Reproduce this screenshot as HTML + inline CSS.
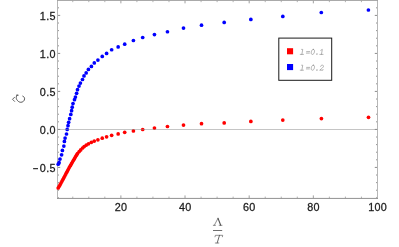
<!DOCTYPE html>
<html><head><meta charset="utf-8"><title>plot</title>
<style>
html,body{margin:0;padding:0;background:#fff;}
body{width:399px;height:247px;overflow:hidden;font-family:"Liberation Sans",sans-serif;}
svg{display:block;will-change:transform;}
.t{font-family:"Liberation Sans",sans-serif;font-size:10.8px;fill:#1c1c1c;stroke:#1c1c1c;stroke-width:0.27px;}
.lg{font-family:"Liberation Mono",monospace;font-style:italic;font-size:8.2px;fill:#989898;}
</style></head><body>
<svg width="399" height="247" viewBox="0 0 399 247">
<rect width="399" height="247" fill="#fff"/>
<line x1="72.77" y1="198.40" x2="72.77" y2="196.60" stroke="#a0a0a0" stroke-width="0.8"/>
<line x1="72.77" y1="0.35" x2="72.77" y2="2.15" stroke="#a0a0a0" stroke-width="0.8"/>
<line x1="88.81" y1="198.40" x2="88.81" y2="196.60" stroke="#a0a0a0" stroke-width="0.8"/>
<line x1="88.81" y1="0.35" x2="88.81" y2="2.15" stroke="#a0a0a0" stroke-width="0.8"/>
<line x1="104.84" y1="198.40" x2="104.84" y2="196.60" stroke="#a0a0a0" stroke-width="0.8"/>
<line x1="104.84" y1="0.35" x2="104.84" y2="2.15" stroke="#a0a0a0" stroke-width="0.8"/>
<line x1="120.88" y1="198.40" x2="120.88" y2="195.40" stroke="#888888" stroke-width="0.8"/>
<line x1="120.88" y1="0.35" x2="120.88" y2="3.35" stroke="#888888" stroke-width="0.8"/>
<line x1="136.92" y1="198.40" x2="136.92" y2="196.60" stroke="#a0a0a0" stroke-width="0.8"/>
<line x1="136.92" y1="0.35" x2="136.92" y2="2.15" stroke="#a0a0a0" stroke-width="0.8"/>
<line x1="152.95" y1="198.40" x2="152.95" y2="196.60" stroke="#a0a0a0" stroke-width="0.8"/>
<line x1="152.95" y1="0.35" x2="152.95" y2="2.15" stroke="#a0a0a0" stroke-width="0.8"/>
<line x1="168.99" y1="198.40" x2="168.99" y2="196.60" stroke="#a0a0a0" stroke-width="0.8"/>
<line x1="168.99" y1="0.35" x2="168.99" y2="2.15" stroke="#a0a0a0" stroke-width="0.8"/>
<line x1="185.03" y1="198.40" x2="185.03" y2="195.40" stroke="#888888" stroke-width="0.8"/>
<line x1="185.03" y1="0.35" x2="185.03" y2="3.35" stroke="#888888" stroke-width="0.8"/>
<line x1="201.07" y1="198.40" x2="201.07" y2="196.60" stroke="#a0a0a0" stroke-width="0.8"/>
<line x1="201.07" y1="0.35" x2="201.07" y2="2.15" stroke="#a0a0a0" stroke-width="0.8"/>
<line x1="217.10" y1="198.40" x2="217.10" y2="196.60" stroke="#a0a0a0" stroke-width="0.8"/>
<line x1="217.10" y1="0.35" x2="217.10" y2="2.15" stroke="#a0a0a0" stroke-width="0.8"/>
<line x1="233.14" y1="198.40" x2="233.14" y2="196.60" stroke="#a0a0a0" stroke-width="0.8"/>
<line x1="233.14" y1="0.35" x2="233.14" y2="2.15" stroke="#a0a0a0" stroke-width="0.8"/>
<line x1="249.18" y1="198.40" x2="249.18" y2="195.40" stroke="#888888" stroke-width="0.8"/>
<line x1="249.18" y1="0.35" x2="249.18" y2="3.35" stroke="#888888" stroke-width="0.8"/>
<line x1="265.22" y1="198.40" x2="265.22" y2="196.60" stroke="#a0a0a0" stroke-width="0.8"/>
<line x1="265.22" y1="0.35" x2="265.22" y2="2.15" stroke="#a0a0a0" stroke-width="0.8"/>
<line x1="281.25" y1="198.40" x2="281.25" y2="196.60" stroke="#a0a0a0" stroke-width="0.8"/>
<line x1="281.25" y1="0.35" x2="281.25" y2="2.15" stroke="#a0a0a0" stroke-width="0.8"/>
<line x1="297.29" y1="198.40" x2="297.29" y2="196.60" stroke="#a0a0a0" stroke-width="0.8"/>
<line x1="297.29" y1="0.35" x2="297.29" y2="2.15" stroke="#a0a0a0" stroke-width="0.8"/>
<line x1="313.33" y1="198.40" x2="313.33" y2="195.40" stroke="#888888" stroke-width="0.8"/>
<line x1="313.33" y1="0.35" x2="313.33" y2="3.35" stroke="#888888" stroke-width="0.8"/>
<line x1="329.37" y1="198.40" x2="329.37" y2="196.60" stroke="#a0a0a0" stroke-width="0.8"/>
<line x1="329.37" y1="0.35" x2="329.37" y2="2.15" stroke="#a0a0a0" stroke-width="0.8"/>
<line x1="345.41" y1="198.40" x2="345.41" y2="196.60" stroke="#a0a0a0" stroke-width="0.8"/>
<line x1="345.41" y1="0.35" x2="345.41" y2="2.15" stroke="#a0a0a0" stroke-width="0.8"/>
<line x1="361.44" y1="198.40" x2="361.44" y2="196.60" stroke="#a0a0a0" stroke-width="0.8"/>
<line x1="361.44" y1="0.35" x2="361.44" y2="2.15" stroke="#a0a0a0" stroke-width="0.8"/>
<line x1="377.48" y1="198.40" x2="377.48" y2="195.40" stroke="#888888" stroke-width="0.8"/>
<line x1="377.48" y1="0.35" x2="377.48" y2="3.35" stroke="#888888" stroke-width="0.8"/>
<line x1="57.50" y1="197.82" x2="59.00" y2="197.82" stroke="#787878" stroke-width="0.8"/>
<line x1="377.50" y1="197.82" x2="376.00" y2="197.82" stroke="#787878" stroke-width="0.8"/>
<line x1="57.50" y1="190.22" x2="59.00" y2="190.22" stroke="#787878" stroke-width="0.8"/>
<line x1="377.50" y1="190.22" x2="376.00" y2="190.22" stroke="#787878" stroke-width="0.8"/>
<line x1="57.50" y1="182.62" x2="59.00" y2="182.62" stroke="#787878" stroke-width="0.8"/>
<line x1="377.50" y1="182.62" x2="376.00" y2="182.62" stroke="#787878" stroke-width="0.8"/>
<line x1="57.50" y1="175.02" x2="59.00" y2="175.02" stroke="#787878" stroke-width="0.8"/>
<line x1="377.50" y1="175.02" x2="376.00" y2="175.02" stroke="#787878" stroke-width="0.8"/>
<line x1="57.50" y1="167.42" x2="60.20" y2="167.42" stroke="#6e6e6e" stroke-width="0.8"/>
<line x1="377.50" y1="167.42" x2="374.80" y2="167.42" stroke="#6e6e6e" stroke-width="0.8"/>
<line x1="57.50" y1="159.82" x2="59.00" y2="159.82" stroke="#787878" stroke-width="0.8"/>
<line x1="377.50" y1="159.82" x2="376.00" y2="159.82" stroke="#787878" stroke-width="0.8"/>
<line x1="57.50" y1="152.22" x2="59.00" y2="152.22" stroke="#787878" stroke-width="0.8"/>
<line x1="377.50" y1="152.22" x2="376.00" y2="152.22" stroke="#787878" stroke-width="0.8"/>
<line x1="57.50" y1="144.62" x2="59.00" y2="144.62" stroke="#787878" stroke-width="0.8"/>
<line x1="377.50" y1="144.62" x2="376.00" y2="144.62" stroke="#787878" stroke-width="0.8"/>
<line x1="57.50" y1="137.02" x2="59.00" y2="137.02" stroke="#787878" stroke-width="0.8"/>
<line x1="377.50" y1="137.02" x2="376.00" y2="137.02" stroke="#787878" stroke-width="0.8"/>
<line x1="57.50" y1="129.42" x2="60.20" y2="129.42" stroke="#6e6e6e" stroke-width="0.8"/>
<line x1="377.50" y1="129.42" x2="374.80" y2="129.42" stroke="#6e6e6e" stroke-width="0.8"/>
<line x1="57.50" y1="121.82" x2="59.00" y2="121.82" stroke="#787878" stroke-width="0.8"/>
<line x1="377.50" y1="121.82" x2="376.00" y2="121.82" stroke="#787878" stroke-width="0.8"/>
<line x1="57.50" y1="114.22" x2="59.00" y2="114.22" stroke="#787878" stroke-width="0.8"/>
<line x1="377.50" y1="114.22" x2="376.00" y2="114.22" stroke="#787878" stroke-width="0.8"/>
<line x1="57.50" y1="106.62" x2="59.00" y2="106.62" stroke="#787878" stroke-width="0.8"/>
<line x1="377.50" y1="106.62" x2="376.00" y2="106.62" stroke="#787878" stroke-width="0.8"/>
<line x1="57.50" y1="99.02" x2="59.00" y2="99.02" stroke="#787878" stroke-width="0.8"/>
<line x1="377.50" y1="99.02" x2="376.00" y2="99.02" stroke="#787878" stroke-width="0.8"/>
<line x1="57.50" y1="91.42" x2="60.20" y2="91.42" stroke="#6e6e6e" stroke-width="0.8"/>
<line x1="377.50" y1="91.42" x2="374.80" y2="91.42" stroke="#6e6e6e" stroke-width="0.8"/>
<line x1="57.50" y1="83.82" x2="59.00" y2="83.82" stroke="#787878" stroke-width="0.8"/>
<line x1="377.50" y1="83.82" x2="376.00" y2="83.82" stroke="#787878" stroke-width="0.8"/>
<line x1="57.50" y1="76.22" x2="59.00" y2="76.22" stroke="#787878" stroke-width="0.8"/>
<line x1="377.50" y1="76.22" x2="376.00" y2="76.22" stroke="#787878" stroke-width="0.8"/>
<line x1="57.50" y1="68.62" x2="59.00" y2="68.62" stroke="#787878" stroke-width="0.8"/>
<line x1="377.50" y1="68.62" x2="376.00" y2="68.62" stroke="#787878" stroke-width="0.8"/>
<line x1="57.50" y1="61.02" x2="59.00" y2="61.02" stroke="#787878" stroke-width="0.8"/>
<line x1="377.50" y1="61.02" x2="376.00" y2="61.02" stroke="#787878" stroke-width="0.8"/>
<line x1="57.50" y1="53.42" x2="60.20" y2="53.42" stroke="#6e6e6e" stroke-width="0.8"/>
<line x1="377.50" y1="53.42" x2="374.80" y2="53.42" stroke="#6e6e6e" stroke-width="0.8"/>
<line x1="57.50" y1="45.82" x2="59.00" y2="45.82" stroke="#787878" stroke-width="0.8"/>
<line x1="377.50" y1="45.82" x2="376.00" y2="45.82" stroke="#787878" stroke-width="0.8"/>
<line x1="57.50" y1="38.22" x2="59.00" y2="38.22" stroke="#787878" stroke-width="0.8"/>
<line x1="377.50" y1="38.22" x2="376.00" y2="38.22" stroke="#787878" stroke-width="0.8"/>
<line x1="57.50" y1="30.62" x2="59.00" y2="30.62" stroke="#787878" stroke-width="0.8"/>
<line x1="377.50" y1="30.62" x2="376.00" y2="30.62" stroke="#787878" stroke-width="0.8"/>
<line x1="57.50" y1="23.02" x2="59.00" y2="23.02" stroke="#787878" stroke-width="0.8"/>
<line x1="377.50" y1="23.02" x2="376.00" y2="23.02" stroke="#787878" stroke-width="0.8"/>
<line x1="57.50" y1="15.42" x2="60.20" y2="15.42" stroke="#6e6e6e" stroke-width="0.8"/>
<line x1="377.50" y1="15.42" x2="374.80" y2="15.42" stroke="#6e6e6e" stroke-width="0.8"/>
<line x1="57.50" y1="7.82" x2="59.00" y2="7.82" stroke="#787878" stroke-width="0.8"/>
<line x1="377.50" y1="7.82" x2="376.00" y2="7.82" stroke="#787878" stroke-width="0.8"/>
<line x1="57.5" y1="0" x2="57.5" y2="198.9" stroke="#b6b6b6" stroke-width="1"/>
<line x1="377.5" y1="0" x2="377.5" y2="198.9" stroke="#b6b6b6" stroke-width="1"/>
<line x1="57" y1="198.42" x2="378" y2="198.42" stroke="#929292" stroke-width="1"/>
<line x1="57" y1="0.4" x2="378" y2="0.4" stroke="#a0a0a0" stroke-width="1"/>
<text class="t" x="121.03" y="210.9" text-anchor="middle" letter-spacing="0.2">20</text>
<text class="t" x="185.18" y="210.9" text-anchor="middle" letter-spacing="0.2">40</text>
<text class="t" x="249.33" y="210.9" text-anchor="middle" letter-spacing="0.2">60</text>
<text class="t" x="313.48" y="210.9" text-anchor="middle" letter-spacing="0.2">80</text>
<text class="t" x="377.63" y="210.9" text-anchor="middle" letter-spacing="0.2">100</text>
<text class="t" x="55.75" y="19.52" text-anchor="end" letter-spacing="0.3">1.5</text>
<text class="t" x="55.75" y="57.52" text-anchor="end" letter-spacing="0.3">1.0</text>
<text class="t" x="55.75" y="95.52" text-anchor="end" letter-spacing="0.3">0.5</text>
<text class="t" x="55.75" y="133.52" text-anchor="end" letter-spacing="0.3">0.0</text>
<text class="t" x="55.75" y="171.52" text-anchor="end" letter-spacing="0.3">0.5</text>
<line x1="33.1" y1="168.67" x2="38.0" y2="168.67" stroke="#1c1c1c" stroke-width="1.1"/>
<circle cx="368.50" cy="117.30" r="1.85" fill="#ff0000"/>
<circle cx="321.40" cy="118.60" r="1.85" fill="#ff0000"/>
<circle cx="282.80" cy="120.05" r="1.85" fill="#ff0000"/>
<circle cx="250.85" cy="121.45" r="1.85" fill="#ff0000"/>
<circle cx="224.20" cy="122.90" r="1.85" fill="#ff0000"/>
<circle cx="201.50" cy="123.70" r="1.85" fill="#ff0000"/>
<circle cx="183.50" cy="125.10" r="1.85" fill="#ff0000"/>
<circle cx="167.45" cy="126.50" r="1.85" fill="#ff0000"/>
<circle cx="154.45" cy="128.10" r="1.85" fill="#ff0000"/>
<circle cx="142.70" cy="129.50" r="1.85" fill="#ff0000"/>
<circle cx="133.40" cy="130.90" r="1.85" fill="#ff0000"/>
<circle cx="124.70" cy="132.30" r="1.85" fill="#ff0000"/>
<circle cx="118.15" cy="133.90" r="1.85" fill="#ff0000"/>
<circle cx="111.65" cy="135.35" r="1.85" fill="#ff0000"/>
<circle cx="106.60" cy="136.85" r="1.85" fill="#ff0000"/>
<circle cx="102.25" cy="138.20" r="1.85" fill="#ff0000"/>
<circle cx="97.90" cy="139.80" r="1.85" fill="#ff0000"/>
<circle cx="94.25" cy="141.10" r="1.85" fill="#ff0000"/>
<circle cx="91.35" cy="142.30" r="1.85" fill="#ff0000"/>
<circle cx="88.50" cy="143.80" r="1.85" fill="#ff0000"/>
<circle cx="86.30" cy="145.10" r="1.85" fill="#ff0000"/>
<circle cx="84.20" cy="146.60" r="1.85" fill="#ff0000"/>
<circle cx="82.55" cy="148.00" r="1.85" fill="#ff0000"/>
<circle cx="80.70" cy="149.90" r="1.85" fill="#ff0000"/>
<circle cx="79.20" cy="151.60" r="1.85" fill="#ff0000"/>
<circle cx="77.50" cy="153.50" r="1.85" fill="#ff0000"/>
<circle cx="76.49" cy="155.15" r="1.85" fill="#ff0000"/>
<circle cx="75.48" cy="156.86" r="1.85" fill="#ff0000"/>
<circle cx="74.48" cy="158.56" r="1.85" fill="#ff0000"/>
<circle cx="73.47" cy="160.26" r="1.85" fill="#ff0000"/>
<circle cx="72.48" cy="161.98" r="1.85" fill="#ff0000"/>
<circle cx="71.49" cy="163.69" r="1.85" fill="#ff0000"/>
<circle cx="70.50" cy="165.40" r="1.85" fill="#ff0000"/>
<circle cx="69.51" cy="167.12" r="1.85" fill="#ff0000"/>
<circle cx="68.56" cy="168.86" r="1.85" fill="#ff0000"/>
<circle cx="67.64" cy="170.61" r="1.85" fill="#ff0000"/>
<circle cx="66.72" cy="172.36" r="1.85" fill="#ff0000"/>
<circle cx="65.80" cy="174.11" r="1.85" fill="#ff0000"/>
<circle cx="64.87" cy="175.86" r="1.85" fill="#ff0000"/>
<circle cx="63.93" cy="177.60" r="1.85" fill="#ff0000"/>
<circle cx="63.00" cy="179.35" r="1.85" fill="#ff0000"/>
<circle cx="62.06" cy="181.09" r="1.85" fill="#ff0000"/>
<circle cx="61.12" cy="182.83" r="1.85" fill="#ff0000"/>
<circle cx="60.16" cy="184.56" r="1.85" fill="#ff0000"/>
<circle cx="59.18" cy="186.28" r="1.85" fill="#ff0000"/>
<circle cx="58.20" cy="188.00" r="1.85" fill="#ff0000"/>
<circle cx="368.40" cy="10.00" r="1.85" fill="#0000ff"/>
<circle cx="321.30" cy="12.50" r="1.85" fill="#0000ff"/>
<circle cx="282.80" cy="16.40" r="1.85" fill="#0000ff"/>
<circle cx="250.85" cy="19.40" r="1.85" fill="#0000ff"/>
<circle cx="224.20" cy="22.40" r="1.85" fill="#0000ff"/>
<circle cx="201.50" cy="25.20" r="1.85" fill="#0000ff"/>
<circle cx="183.50" cy="28.10" r="1.85" fill="#0000ff"/>
<circle cx="167.45" cy="31.75" r="1.85" fill="#0000ff"/>
<circle cx="154.45" cy="34.60" r="1.85" fill="#0000ff"/>
<circle cx="142.70" cy="37.50" r="1.85" fill="#0000ff"/>
<circle cx="133.40" cy="40.50" r="1.85" fill="#0000ff"/>
<circle cx="124.70" cy="44.15" r="1.85" fill="#0000ff"/>
<circle cx="118.15" cy="46.95" r="1.85" fill="#0000ff"/>
<circle cx="111.65" cy="49.75" r="1.85" fill="#0000ff"/>
<circle cx="106.60" cy="53.40" r="1.85" fill="#0000ff"/>
<circle cx="102.25" cy="56.40" r="1.85" fill="#0000ff"/>
<circle cx="97.90" cy="60.10" r="1.85" fill="#0000ff"/>
<circle cx="94.30" cy="62.95" r="1.85" fill="#0000ff"/>
<circle cx="91.40" cy="66.40" r="1.85" fill="#0000ff"/>
<circle cx="88.40" cy="69.45" r="1.85" fill="#0000ff"/>
<circle cx="86.15" cy="72.90" r="1.85" fill="#0000ff"/>
<circle cx="84.00" cy="75.95" r="1.85" fill="#0000ff"/>
<circle cx="82.50" cy="79.50" r="1.85" fill="#0000ff"/>
<circle cx="80.40" cy="83.10" r="1.85" fill="#0000ff"/>
<circle cx="79.00" cy="86.05" r="1.85" fill="#0000ff"/>
<circle cx="77.50" cy="89.70" r="1.85" fill="#0000ff"/>
<circle cx="76.60" cy="93.30" r="1.85" fill="#0000ff"/>
<circle cx="75.40" cy="97.10" r="1.85" fill="#0000ff"/>
<circle cx="74.50" cy="99.70" r="1.85" fill="#0000ff"/>
<circle cx="73.00" cy="103.60" r="1.85" fill="#0000ff"/>
<circle cx="72.20" cy="107.20" r="1.85" fill="#0000ff"/>
<circle cx="71.60" cy="110.70" r="1.85" fill="#0000ff"/>
<circle cx="70.80" cy="114.40" r="1.85" fill="#0000ff"/>
<circle cx="69.60" cy="118.70" r="1.85" fill="#0000ff"/>
<circle cx="68.65" cy="122.30" r="1.85" fill="#0000ff"/>
<circle cx="68.00" cy="125.70" r="1.85" fill="#0000ff"/>
<circle cx="67.20" cy="129.40" r="1.85" fill="#0000ff"/>
<circle cx="66.50" cy="134.00" r="1.85" fill="#0000ff"/>
<circle cx="65.10" cy="138.10" r="1.85" fill="#0000ff"/>
<circle cx="64.40" cy="141.40" r="1.85" fill="#0000ff"/>
<circle cx="63.85" cy="146.05" r="1.85" fill="#0000ff"/>
<circle cx="62.40" cy="150.40" r="1.85" fill="#0000ff"/>
<circle cx="61.60" cy="154.80" r="1.85" fill="#0000ff"/>
<circle cx="60.00" cy="159.10" r="1.85" fill="#0000ff"/>
<circle cx="59.10" cy="162.70" r="1.85" fill="#0000ff"/>
<circle cx="58.20" cy="164.20" r="1.85" fill="#0000ff"/>
<line x1="57.5" y1="129.5" x2="377.5" y2="129.5" stroke="#8c8c8c" stroke-opacity="0.5" stroke-width="1"/>
<rect x="278.8" y="38.1" width="52.9" height="42.2" fill="#fff" stroke="#1a1a1a" stroke-width="1"/>
<rect x="287" y="48.2" width="6.1" height="6.1" fill="#ff0000"/>
<rect x="287" y="64" width="6.1" height="6.1" fill="#0000ff"/>
<g transform="translate(299.46,54.4) skewX(-10)" fill="none" stroke="#888888" stroke-width="0.6" stroke-linecap="round" stroke-linejoin="round"><path transform="translate(0.00,0)" d="M 1.3 -5.0 L 2.4 -5.0 L 2.4 0 M 0.8 0 L 4.0 0"/><path transform="translate(4.87,0)" d="M 1.8 -2.8 L 4.8 -2.8 M 1.8 -1.3 L 4.8 -1.3"/><path transform="translate(9.74,0)" d="M 3.23 -5.05 C 4.3 -5.05 4.78 -4.0 4.78 -2.5 C 4.78 -1.0 4.3 0.05 3.23 0.05 C 2.16 0.05 1.68 -1.0 1.68 -2.5 C 1.68 -4.0 2.16 -5.05 3.23 -5.05 Z"/><path transform="translate(14.61,0)" d="M 2.5 -0.3 L 3.1 -0.3" stroke-width="1.0"/><path transform="translate(19.48,0)" d="M 1.1 -4.1 L 2.5 -5.0 L 2.5 0 M 0.9 0 L 4.1 0"/></g>
<g transform="translate(299.46,70.2) skewX(-10)" fill="none" stroke="#888888" stroke-width="0.6" stroke-linecap="round" stroke-linejoin="round"><path transform="translate(0.00,0)" d="M 1.3 -5.0 L 2.4 -5.0 L 2.4 0 M 0.8 0 L 4.0 0"/><path transform="translate(4.87,0)" d="M 1.8 -2.8 L 4.8 -2.8 M 1.8 -1.3 L 4.8 -1.3"/><path transform="translate(9.74,0)" d="M 3.23 -5.05 C 4.3 -5.05 4.78 -4.0 4.78 -2.5 C 4.78 -1.0 4.3 0.05 3.23 0.05 C 2.16 0.05 1.68 -1.0 1.68 -2.5 C 1.68 -4.0 2.16 -5.05 3.23 -5.05 Z"/><path transform="translate(14.61,0)" d="M 2.5 -0.3 L 3.1 -0.3" stroke-width="1.0"/><path transform="translate(19.48,0)" d="M 1.0 -3.8 C 1.0 -4.7 1.7 -5.05 2.45 -5.05 C 3.3 -5.05 3.9 -4.5 3.9 -3.8 C 3.9 -2.8 2.5 -1.9 0.8 0 L 4.0 0 L 4.0 -0.6"/></g>
<g fill="none" stroke="#3c3c3c" stroke-width="0.85" stroke-linecap="round" stroke-linejoin="round">
<path d="M 17.0 95.2 C 16.0 96.5 16.0 98.5 16.8 99.7 C 17.7 101.1 19.2 102.3 20.8 102.3 C 22.7 102.3 24.6 100.8 24.6 98.8 C 24.6 97.6 23.9 96.5 22.8 96.1"/>
<path d="M 16.8 95.1 L 18.1 95.2" stroke-width="1.0"/>
<path d="M 14.6 97.2 L 12.5 99.3 L 14.6 101.4" stroke-width="0.8"/>
</g>
<g fill="none" stroke="#555" stroke-width="0.65" stroke-linecap="round" stroke-linejoin="round">
<path d="M 213.3 225.3 L 215.5 225.3 M 214.3 225.3 L 218.0 218.3"/>
<path d="M 218.0 218.3 L 220.7 225.3" stroke-width="1.1"/>
<path d="M 219.2 225.3 L 222.0 225.3"/>
<path d="M 213 230.5 L 222.2 230.5" stroke-width="1.0" stroke="#6e6e6e" stroke-linecap="butt"/>
<path d="M 215.0 236.8 L 215.4 235.3 L 222.7 235.3 L 222.4 236.8 M 215.3 243.0 L 218.8 243.0"/>
<path d="M 219.5 235.3 L 217.2 242.9" stroke-width="0.9"/>
</g>
</svg>
</body></html>
